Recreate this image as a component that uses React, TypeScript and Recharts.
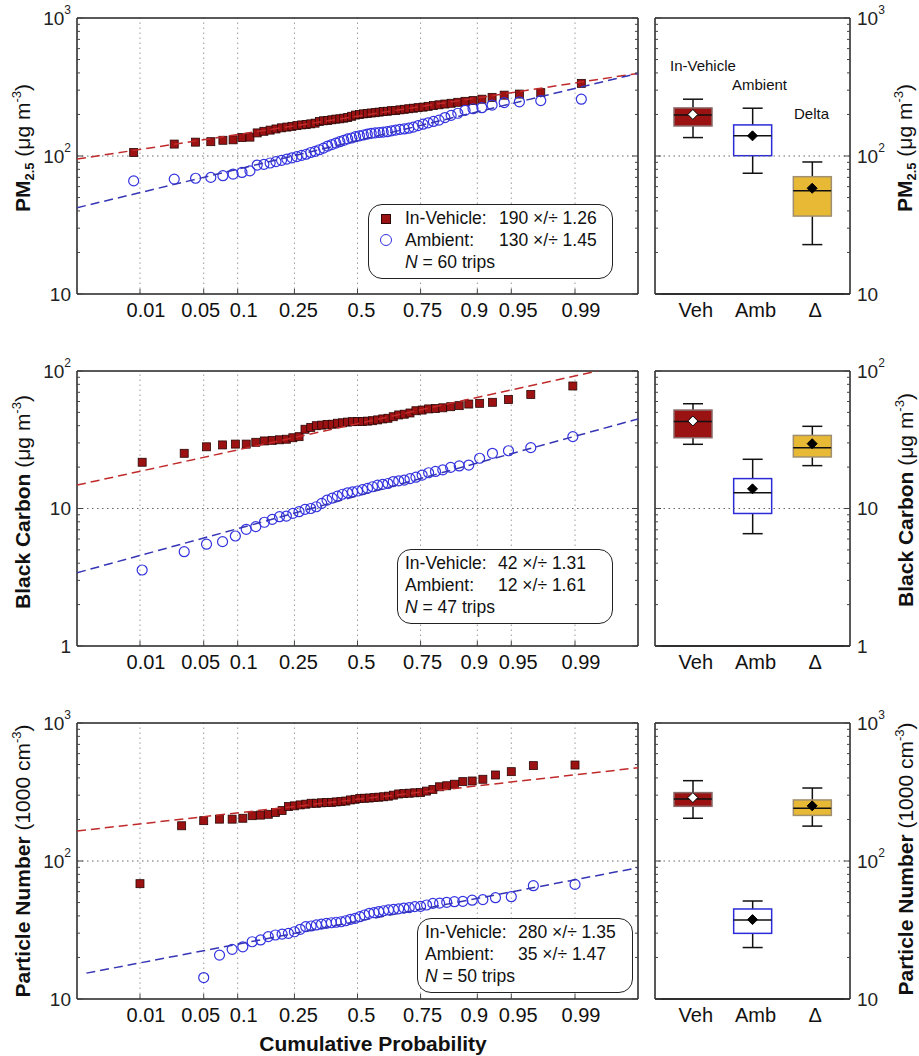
import React from 'react';
import { ComposedChart, Scatter, Bar, XAxis, YAxis, ReferenceLine } from 'recharts';

const FONT = '"Liberation Sans", Arial, Helvetica, sans-serif';

// probability (probit) axis
const PROB_TICKS = [0.01, 0.05, 0.1, 0.25, 0.5, 0.75, 0.9, 0.95, 0.99];
const PROB_LABELS = ['0.01', '0.05', '0.1', '0.25', '0.5', '0.75', '0.9', '0.95', '0.99'];
const PROB_DX = [6, -3, 6, 4, 4, 2, -3, 7, 6]; // label nudges as in the original

// PM2.5 (ug m-3), sorted trip values, N = 60
const PM_VEH = [106, 122, 126, 127, 130, 131, 136, 137, 147, 151, 154, 157, 160, 162, 164, 166, 168, 169, 171, 173, 178, 180, 181, 183, 185, 186, 188, 190, 194, 198, 200, 202, 203, 205, 206, 208, 210, 211, 213, 214, 216, 218, 220, 222, 224, 226, 229, 232, 235, 238, 241, 245, 249, 252, 258, 266, 276, 281, 288, 336];
const PM_AMB = [66, 68, 69, 70, 72, 74, 76, 78, 86, 87, 89, 91, 93, 95, 97, 99, 101, 103, 106, 108, 111, 114, 118, 121, 124, 127, 130, 133, 135, 138, 140, 142, 144, 146, 147, 148, 149, 150, 152, 154, 156, 157, 159, 162, 166, 170, 174, 178, 182, 190, 197, 204, 214, 220, 224, 234, 244, 247, 252, 258];
// fitted lines, end points (z, value)
const PM_FIT_VEH = [{ z: -3, v: 95 }, { z: 3, v: 397 }];
const PM_FIT_AMB = [{ z: -3, v: 42.2 }, { z: 3, v: 397 }];

// Black carbon (ug m-3), N = 47
const BC_VEH = [21.7, 25.2, 28.1, 29.0, 29.4, 29.4, 30.3, 31.0, 31.3, 31.6, 31.9, 32.7, 33.3, 37.7, 38.9, 40.0, 40.4, 40.9, 41.0, 41.7, 42.0, 42.5, 42.8, 42.9, 43.0, 43.2, 43.5, 44.1, 44.8, 45.3, 46.5, 47.9, 48.5, 49.5, 51.4, 52.0, 53.0, 53.3, 54.0, 55.0, 56.0, 57.5, 58.2, 59.2, 62.0, 67.5, 77.8];
const BC_AMB = [3.57, 4.85, 5.5, 5.74, 6.31, 7.06, 7.38, 7.94, 8.34, 8.72, 8.81, 9.22, 9.48, 9.86, 10.0, 10.3, 10.9, 11.5, 11.9, 12.3, 12.7, 13.0, 13.2, 13.4, 13.7, 14.0, 14.4, 14.8, 15.0, 15.2, 15.7, 15.9, 16.1, 16.5, 16.9, 17.5, 18.2, 18.6, 19.1, 19.9, 20.4, 20.7, 23.2, 25.2, 26.3, 27.7, 33.3];
const BC_FIT_VEH = [{ z: -3, v: 14.8 }, { z: 2.57, v: 100 }];
const BC_FIT_AMB = [{ z: -3, v: 3.41 }, { z: 3, v: 44.8 }];

// Particle number (1000 cm-3), N = 50 (two lowest ambient values off scale)
const PN_VEH = [68.5, 180, 196, 201, 201, 204, 213, 215, 218, 225, 232, 248, 251, 255, 258, 262, 262, 264, 265, 266, 268, 270, 272, 277, 280, 284, 285, 286, 288, 290, 292, 295, 300, 306, 308, 310, 312, 313, 321, 330, 345, 351, 360, 376, 380, 391, 420, 444, 491, 496];
const PN_AMB = [null, null, 14.3, 20.8, 22.9, 23.9, 26.0, 26.8, 28.3, 29.1, 29.5, 29.9, 30.7, 32.0, 33.4, 33.8, 34.4, 34.9, 35.3, 35.7, 36.0, 36.3, 36.9, 37.8, 38.4, 39.5, 40.6, 41.8, 42.2, 43.0, 43.6, 44.2, 44.6, 45.0, 45.6, 46.0, 46.7, 46.9, 48.0, 49.3, 49.5, 50.2, 50.7, 51.0, 52.0, 52.5, 54.2, 55.1, 66.2, 67.7];
const PN_FIT_VEH = [{ z: -3, v: 165 }, { z: 3, v: 474 }];
const PN_FIT_AMB = [{ z: -2.9, v: 15.4 }, { z: 3, v: 89.4 }];

// box plots: Veh, Amb, Delta
const BOX_CATS = ['Veh', 'Amb', 'Δ'];
const PM_WLO = [136, 75, 22.8];
const PM_Q1 = [165, 100.5, 36.7];
const PM_MED = [198, 140, 56];
const PM_Q3 = [223, 168, 70.8];
const PM_WHI = [258, 222, 90.5];
const PM_MEAN = [200, 140, 58.4];

const BC_WLO = [29.3, 6.56, 20.5];
const BC_Q1 = [32.7, 9.2, 23.7];
const BC_MED = [43, 13.0, 27.7];
const BC_Q3 = [52, 16.5, 34.0];
const BC_WHI = [57.8, 22.8, 39.6];
const BC_MEAN = [43.3, 13.9, 29.6];

const PN_WLO = [204, 23.6, 179];
const PN_Q1 = [249, 29.9, 214];
const PN_MED = [281, 37.3, 241];
const PN_Q3 = [313, 44.9, 277];
const PN_WHI = [382, 51.3, 338];
const PN_MEAN = [288, 37.6, 251];

const BOX_FILL = ['#9b1212', '#ffffff', '#e8b935'];
const BOX_STROKE = ['#8a6a6a', '#2b2bd8', '#a09070'];
const MEAN_FILL = ['#ffffff', '#000000', '#000000'];

const RED = '#9c1111';
const BLUE = '#3333e0';
const RED_FIT = '#c02a2a';
const BLUE_FIT = '#3535b5';
const AXIS_LINE = { stroke: '#222', strokeWidth: 1.5 };

// inverse normal CDF (Acklam)
function probit(p: number): number {
  const a = [-39.69683028665376, 220.9460984245205, -275.9285104469687, 138.357751867269, -30.66479806614716, 2.506628277459239];
  const b = [-54.47609879822406, 161.5858368580409, -155.6989798598866, 66.80131188771972, -13.28068155288572];
  const c = [-0.007784894002430293, -0.3223964580411365, -2.400758277161838, -2.549732539343734, 4.374664141464968, 2.938163982698783];
  const d = [0.007784695709041462, 0.3224671290700398, 2.445134137142996, 3.754408661907416];
  const plow = 0.02425;
  if (p < plow) {
    const q = Math.sqrt(-2 * Math.log(p));
    return (((((c[0] * q + c[1]) * q + c[2]) * q + c[3]) * q + c[4]) * q + c[5]) / ((((d[0] * q + d[1]) * q + d[2]) * q + d[3]) * q + 1);
  }
  if (p <= 1 - plow) {
    const q = p - 0.5;
    const r = q * q;
    return ((((((a[0] * r + a[1]) * r + a[2]) * r + a[3]) * r + a[4]) * r + a[5]) * q) / (((((b[0] * r + b[1]) * r + b[2]) * r + b[3]) * r + b[4]) * r + 1);
  }
  const q = Math.sqrt(-2 * Math.log(1 - p));
  return -(((((c[0] * q + c[1]) * q + c[2]) * q + c[3]) * q + c[4]) * q + c[5]) / ((((d[0] * q + d[1]) * q + d[2]) * q + d[3]) * q + 1);
}

const PROB_Z = PROB_TICKS.map(probit);

// Hazen plotting positions on the probit axis
const plotPoints = (vals: (number | null)[]) => {
  const out: { z: number; v: number }[] = [];
  vals.forEach((v, i) => {
    if (v != null) out.push({ z: probit((i + 0.5) / vals.length), v });
  });
  return out;
};

const logTicks = (lo: number, hi: number) => {
  const t: number[] = [];
  for (let d = lo; d < hi; d *= 10) for (let m = 1; m < 10; m++) t.push(d * m);
  t.push(hi);
  return t;
};

const LogTick = (props: any) => {
  const { x, y, payload, side, showLabel } = props;
  const lg = Math.log10(payload.value);
  const e = Math.round(lg);
  const major = Math.abs(lg - e) < 1e-6;
  const dir = side === 'left' ? 1 : -1;
  const len = major ? 6 : 3;
  return (
    <g>
      <line x1={x} x2={x + dir * len} y1={y} y2={y} stroke="#444" strokeWidth={1} />
      {showLabel && major && (
        <text
          x={side === 'left' ? x - 6 : x + 7}
          y={y}
          textAnchor={side === 'left' ? 'end' : 'start'}
          dominantBaseline="central"
          fontFamily={FONT}
          fontSize={19}
          fill="#222"
        >
          {e === 0 ? '1' : '10'}
          {e > 1 && (
            <tspan dy={-8} fontSize={12}>
              {e}
            </tspan>
          )}
        </text>
      )}
    </g>
  );
};

const ProbTick = (props: any) => {
  const { x, y, payload } = props;
  const i = PROB_Z.findIndex((z) => Math.abs(z - payload.value) < 1e-6);
  return (
    <g>
      <line x1={x} x2={x} y1={y} y2={y - 5} stroke="#444" />
      <text x={x + (PROB_DX[i] || 0)} y={y + 16} textAnchor="middle" dominantBaseline="central" fontFamily={FONT} fontSize={20} fill="#111">
        {PROB_LABELS[i]}
      </text>
    </g>
  );
};

const CatTick = (props: any) => (
  <text x={props.x + 3} y={props.y + 16} textAnchor="middle" dominantBaseline="central" fontFamily={FONT} fontSize={20} fill="#111">
    {props.payload.value}
  </text>
);

const Square = (p: any) => <rect x={p.cx - 4} y={p.cy - 4} width={8} height={8} fill={RED} stroke="#2a0808" strokeWidth={0.8} />;
const Ring = (p: any) => <circle cx={p.cx} cy={p.cy} r={5} fill="none" stroke={BLUE} strokeWidth={1.2} />;
const NoDot = () => <g />;

const Whisker = (p: any) => {
  const cx = p.x + p.width / 2;
  return (
    <g stroke="#111" strokeWidth={1.5}>
      <line x1={cx} x2={cx} y1={p.y} y2={p.y + p.height} />
      <line x1={p.x} x2={p.x + p.width} y1={p.y} y2={p.y} />
      <line x1={p.x} x2={p.x + p.width} y1={p.y + p.height} y2={p.y + p.height} />
    </g>
  );
};

const BoxRect = (p: any) => (
  <rect x={p.x} y={p.y} width={p.width} height={p.height} fill={BOX_FILL[p.index]} stroke={BOX_STROKE[p.index]} strokeWidth={1.5} />
);

const MedianTick = (p: any) => <line x1={p.cx - 19} x2={p.cx + 19} y1={p.cy} y2={p.cy} stroke="#111" strokeWidth={1.5} />;

const MeanDiamond = (p: any) => {
  const i = BOX_CATS.indexOf(p.payload?.name);
  const s = 5;
  return (
    <path
      d={`M${p.cx},${p.cy - s}L${p.cx + s},${p.cy}L${p.cx},${p.cy + s}L${p.cx - s},${p.cy}Z`}
      fill={MEAN_FILL[i]}
      stroke="#000"
      strokeWidth={1}
    />
  );
};

function ProbPanel({ plotTop, plotBottom, lo, hi, grid, veh, amb, vehFit, ambFit }: any) {
  const h = plotBottom - plotTop + 64;
  const ticks = logTicks(lo, hi);
  return (
    <div style={{ position: 'absolute', left: 0, top: plotTop - 20 }}>
      <ComposedChart width={645} height={h} margin={{ top: 20, right: 3, bottom: 4, left: 17 }}>
        <XAxis type="number" dataKey="z" domain={[-3, 3]} ticks={PROB_Z} interval={0} allowDataOverflow height={40}
          tickSize={0} tickMargin={0} tickLine={false} axisLine={AXIS_LINE} tick={<ProbTick />} />
        <YAxis yAxisId="l" scale="log" domain={[lo, hi]} ticks={ticks} interval={0} allowDataOverflow width={60}
          tickSize={0} tickMargin={0} tickLine={false} axisLine={AXIS_LINE} tick={<LogTick side="left" showLabel />} />
        <YAxis yAxisId="r" orientation="right" scale="log" domain={[lo, hi]} ticks={ticks} interval={0} allowDataOverflow width={4}
          tickSize={0} tickMargin={0} tickLine={false} axisLine={AXIS_LINE} tick={<LogTick side="right" />} />
        {PROB_Z.map((z) => (
          <ReferenceLine key={z} yAxisId="l" x={z} stroke="#9a9a9a" strokeDasharray="1.5 3.5" />
        ))}
        <ReferenceLine yAxisId="l" y={grid} stroke="#666" strokeDasharray="1.5 3.5" />
        <ReferenceLine yAxisId="l" y={hi} stroke="#222" strokeWidth={1.5} />
        <Scatter yAxisId="l" data={plotPoints(veh)} dataKey="v" shape={Square} isAnimationActive={false} />
        <Scatter yAxisId="l" data={plotPoints(amb)} dataKey="v" shape={Ring} isAnimationActive={false} />
        <Scatter yAxisId="l" data={vehFit} dataKey="v" shape={NoDot} isAnimationActive={false}
          line={{ stroke: RED_FIT, strokeWidth: 1.5, strokeDasharray: '9 5' }} />
        <Scatter yAxisId="l" data={ambFit} dataKey="v" shape={NoDot} isAnimationActive={false}
          line={{ stroke: BLUE_FIT, strokeWidth: 1.5, strokeDasharray: '9 5' }} />
      </ComposedChart>
    </div>
  );
}

function BoxPanel({ plotTop, plotBottom, lo, hi, grid, wlo, q1, med, q3, whi, mean }: any) {
  const h = plotBottom - plotTop + 64;
  const ticks = logTicks(lo, hi);
  const data = BOX_CATS.map((name, i) => ({
    name,
    whisker: [wlo[i], whi[i]],
    box: [q1[i], q3[i]],
    med: med[i],
    mean: mean[i],
  }));
  const pad = { left: 8, right: 8 };
  return (
    <div style={{ position: 'absolute', left: 645, top: plotTop - 20 }}>
      <ComposedChart width={274} height={h} data={data} margin={{ top: 20, right: 9, bottom: 4, left: 6 }}>
        <XAxis xAxisId="c" dataKey="name" padding={pad} height={40} interval={0}
          tickSize={0} tickMargin={0} tickLine={false} axisLine={AXIS_LINE} tick={<CatTick />} />
        <XAxis xAxisId="w" dataKey="name" padding={pad} height={0} hide />
        <XAxis xAxisId="b" dataKey="name" padding={pad} height={0} hide />
        <YAxis yAxisId="v" orientation="right" scale="log" domain={[lo, hi]} ticks={ticks} interval={0} allowDataOverflow width={60}
          tickSize={0} tickMargin={0} tickLine={false} axisLine={AXIS_LINE} tick={<LogTick side="right" showLabel />} />
        <YAxis yAxisId="e" orientation="left" scale="log" domain={[lo, hi]} ticks={ticks} interval={0} allowDataOverflow width={4}
          tickSize={0} tickMargin={0} tickLine={false} axisLine={AXIS_LINE} tick={<LogTick side="left" />} />
        <ReferenceLine xAxisId="c" yAxisId="v" y={grid} stroke="#666" strokeDasharray="1.5 3.5" />
        <ReferenceLine xAxisId="c" yAxisId="v" y={hi} stroke="#222" strokeWidth={1.5} />
        <ReferenceLine xAxisId="c" yAxisId="v" y={lo} stroke="#222" strokeWidth={1.5} />
        <Bar xAxisId="w" yAxisId="v" dataKey="whisker" barSize={20} shape={Whisker} isAnimationActive={false} />
        <Bar xAxisId="b" yAxisId="v" dataKey="box" barSize={38} shape={BoxRect} isAnimationActive={false} />
        <Scatter xAxisId="c" yAxisId="v" dataKey="med" shape={MedianTick} isAnimationActive={false} />
        <Scatter xAxisId="c" yAxisId="v" dataKey="mean" shape={MeanDiamond} isAnimationActive={false} />
      </ComposedChart>
    </div>
  );
}

const SideLabel = ({ x, y, children }: any) => (
  <div
    style={{
      position: 'absolute', left: x, top: y, transform: 'translate(-50%, -50%) rotate(-90deg)',
      whiteSpace: 'nowrap', fontSize: 21, fontFamily: FONT, lineHeight: 1, color: '#111',
    }}
  >
    {children}
  </div>
);

const sub = { fontSize: 13, position: 'relative' as const, top: 4 };
const sup = { fontSize: 13, position: 'relative' as const, top: -9 };

const PmLabel = () => (
  <>
    <b>PM<span style={sub}>2.5</span></b> (μg m<span style={sup}>-3</span>)
  </>
);
const BcLabel = () => (
  <>
    <b>Black Carbon</b> (μg m<span style={sup}>-3</span>)
  </>
);
const PnLabel = () => (
  <>
    <b>Particle Number</b> (1000 cm<span style={sup}>-3</span>)
  </>
);

const StatBox = ({ left, top, width, labelX, valueX, veh, amb, n, markers }: any) => {
  const line = (cy: number, content: React.ReactNode) => (
    <div style={{ position: 'absolute', left: 0, top: cy - 11, height: 22, lineHeight: '22px', width: '100%' }}>{content}</div>
  );
  return (
    <div
      style={{
        position: 'absolute', left, top, width, height: 75, boxSizing: 'border-box', border: '1.5px solid #222',
        borderRadius: 14, background: '#fff', fontFamily: FONT, fontSize: 17.5, color: '#111',
      }}
    >
      {line(13, (
        <>
          {markers && (
            <span style={{ position: 'absolute', left: 12, top: 7, width: 8, height: 8, background: RED, border: '0.8px solid #2a0808' }} />
          )}
          <span style={{ position: 'absolute', left: labelX }}>In-Vehicle:</span>
          <span style={{ position: 'absolute', left: valueX }}>{veh}</span>
        </>
      ))}
      {line(35, (
        <>
          {markers && (
            <span style={{ position: 'absolute', left: 11, top: 5, width: 10, height: 10, borderRadius: '50%', border: `1.2px solid ${BLUE}` }} />
          )}
          <span style={{ position: 'absolute', left: labelX }}>Ambient:</span>
          <span style={{ position: 'absolute', left: valueX }}>{amb}</span>
        </>
      ))}
      {line(57, (
        <span style={{ position: 'absolute', left: labelX }}>
          <i>N</i> = {n} trips
        </span>
      ))}
    </div>
  );
};

const Note = ({ x, y, children }: any) => (
  <div style={{ position: 'absolute', left: x, top: y - 9, fontFamily: FONT, fontSize: 15, lineHeight: '18px', color: '#111' }}>{children}</div>
);

export default function App() {
  return (
    <div style={{ position: 'absolute', left: 0, top: 0, width: 919, height: 1056, background: '#fff', fontFamily: FONT }}>
      <ProbPanel plotTop={18} plotBottom={294} lo={10} hi={1000} grid={100} veh={PM_VEH} amb={PM_AMB} vehFit={PM_FIT_VEH} ambFit={PM_FIT_AMB} />
      <BoxPanel plotTop={18} plotBottom={294} lo={10} hi={1000} grid={100}
        wlo={PM_WLO} q1={PM_Q1} med={PM_MED} q3={PM_Q3} whi={PM_WHI} mean={PM_MEAN} />

      <ProbPanel plotTop={371} plotBottom={646} lo={1} hi={100} grid={10} veh={BC_VEH} amb={BC_AMB} vehFit={BC_FIT_VEH} ambFit={BC_FIT_AMB} />
      <BoxPanel plotTop={371} plotBottom={646} lo={1} hi={100} grid={10}
        wlo={BC_WLO} q1={BC_Q1} med={BC_MED} q3={BC_Q3} whi={BC_WHI} mean={BC_MEAN} />

      <ProbPanel plotTop={723} plotBottom={999} lo={10} hi={1000} grid={100} veh={PN_VEH} amb={PN_AMB} vehFit={PN_FIT_VEH} ambFit={PN_FIT_AMB} />
      <BoxPanel plotTop={723} plotBottom={999} lo={10} hi={1000} grid={100}
        wlo={PN_WLO} q1={PN_Q1} med={PN_MED} q3={PN_Q3} whi={PN_WHI} mean={PN_MEAN} />

      <StatBox left={368} top={204} width={245} labelX={36} valueX={130} markers
        veh="190 ×/÷ 1.26" amb="130 ×/÷ 1.45" n={60} />
      <StatBox left={397} top={549} width={216} labelX={7} valueX={100}
        veh="42 ×/÷ 1.31" amb="12 ×/÷ 1.61" n={47} />
      <StatBox left={417} top={918} width={216} labelX={7} valueX={100}
        veh="280 ×/÷ 1.35" amb="35 ×/÷ 1.47" n={50} />

      <Note x={670} y={66}>In-Vehicle</Note>
      <Note x={732} y={85}>Ambient</Note>
      <Note x={794} y={114}>Delta</Note>

      <SideLabel x={22} y={148}><PmLabel /></SideLabel>
      <SideLabel x={904} y={148}><PmLabel /></SideLabel>
      <SideLabel x={22} y={502}><BcLabel /></SideLabel>
      <SideLabel x={905} y={500}><BcLabel /></SideLabel>
      <SideLabel x={22} y={861}><PnLabel /></SideLabel>
      <SideLabel x={905} y={859}><PnLabel /></SideLabel>

      <div style={{ position: 'absolute', left: 373, top: 1044, transform: 'translate(-50%, -50%)', fontFamily: FONT, fontSize: 21, fontWeight: 'bold', whiteSpace: 'nowrap', color: '#111' }}>
        Cumulative Probability
      </div>
    </div>
  );
}
